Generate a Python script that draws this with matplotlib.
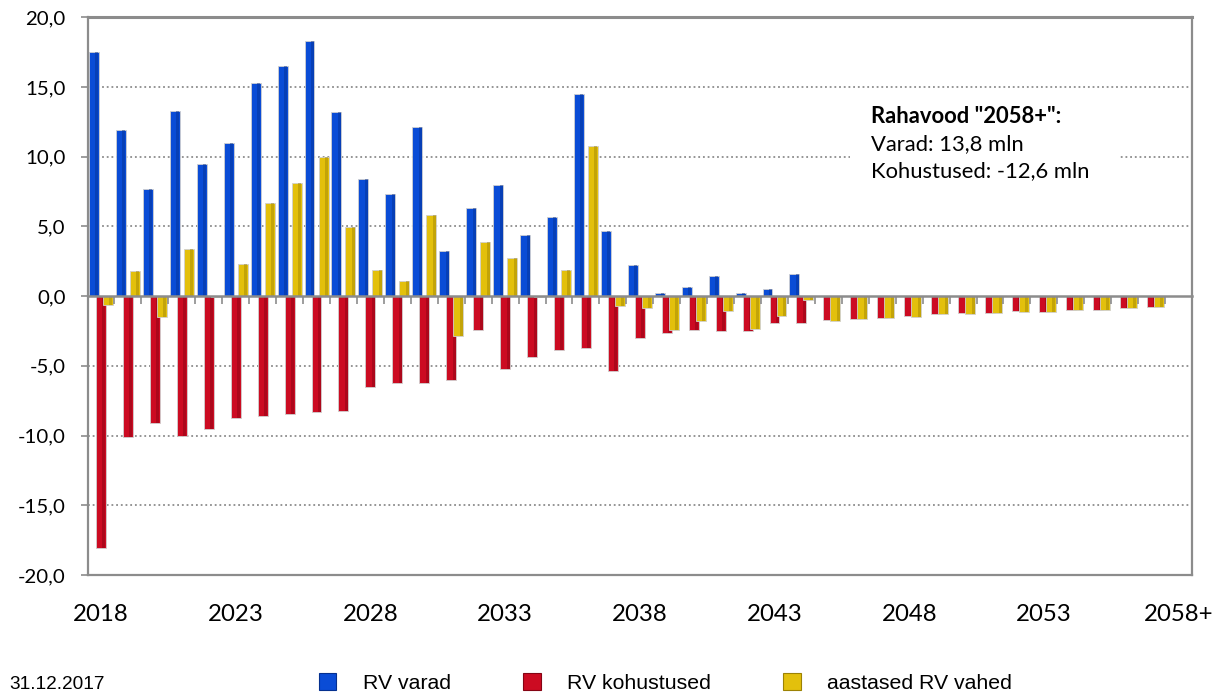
import matplotlib
matplotlib.use("Agg")
import matplotlib.pyplot as plt
from matplotlib.patches import Rectangle, Patch
from matplotlib.ticker import FuncFormatter
import numpy as np

# categories: 2018 ... 2057 plus the "2058+" bucket (shown only as text)
categories = [str(y) for y in range(2018, 2058)] + ["2058+"]
tick_labels = ["2018", "2023", "2028", "2033", "2038", "2043", "2048", "2053", "2058+"]

# RV varad (assets), 2018-2044
rv_varad = [17.5, 11.9, 7.7, 13.3, 9.5, 11.0, 15.3, 16.5, 18.3, 13.2,
            8.4, 7.35, 12.1, 3.25, 6.35, 8.0, 4.35, 5.7, 14.5, 4.7,
            2.2, 0.25, 0.62, 1.42, 0.2, 0.5, 1.6]

# RV kohustused (liabilities), 2018-2057
rv_kohustused = [-18.1, -10.1, -9.1, -10.0, -9.5, -8.75, -8.6, -8.45, -8.3, -8.25,
                 -6.55, -6.25, -6.25, -6.05, -2.45, -5.25, -4.35, -3.9, -3.75, -5.35,
                 -3.0, -2.65, -2.4, -2.5, -2.5, -1.95, -1.9, -1.7, -1.62, -1.56,
                 -1.44, -1.28, -1.22, -1.2, -1.1, -1.12, -0.97, -0.98, -0.85, -0.75]

# aastased RV vahed (annual gap), 2018-2057
rv_vahed = [-0.65, 1.8, -1.5, 3.4, -0.1, 2.3, 6.65, 8.1, 10.0, 4.95,
            1.85, 1.1, 5.85, -2.85, 3.9, 2.7, -0.05, 1.85, 10.8, -0.7,
            -0.85, -2.45, -1.8, -1.1, -2.35, -1.45, -0.3, -1.75, -1.66, -1.6,
            -1.47, -1.3, -1.25, -1.23, -1.13, -1.14, -1.0, -1.0, -0.88, -0.79]

series_names = ["RV varad", "RV kohustused", "aastased RV vahed"]
colors = ["#0a4cd6", "#cc0b22", "#e3c00c"]
dark = ["#05308f", "#850414", "#9c8204"]

box_lines = ['Rahavood "2058+":', "Varad: 13,8 mln", "Kohustused: -12,6 mln"]

GRAY = "#8c8c8c"

fig = plt.figure(figsize=(12.19, 6.95), dpi=100)
ax = fig.add_axes([0.0718, 0.1727, 0.9061, 0.8025])

bw = 0.37
offsets = [-0.26, 0.0, 0.26]
for k, vals in enumerate([rv_varad, rv_kohustused, rv_vahed]):
    x = np.arange(len(vals)) + offsets[k]
    ax.bar(x, vals, width=bw, color=colors[k], edgecolor="#d0d0d0",
           linewidth=0.6, zorder=2 + k * 0.1)
    # darker right side for a bit of the 3D look
    ax.bar(x + bw * 0.3, vals, width=bw * 0.3, color=dark[k], alpha=0.45,
           linewidth=0, zorder=2.05 + k * 0.1)

ax.set_xlim(-0.5, len(categories) - 0.5)
ax.set_ylim(-20, 20)
ax.set_yticks(np.arange(-20, 21, 5))
ax.yaxis.set_major_formatter(FuncFormatter(lambda v, p: f"{v:.1f}".replace(".", ",")))
ax.set_xticks(range(0, len(categories), 5))
ax.set_xticklabels(tick_labels)

for t in ax.get_yticklabels():
    t.set_fontfamily("Lato")
    t.set_fontsize(14.7)
for t in ax.get_xticklabels():
    t.set_fontfamily("Lato")
    t.set_fontsize(17.3)

ax.tick_params(axis="y", length=5.4, width=1.2, color=GRAY, pad=10.4)
ax.tick_params(axis="x", length=0, pad=21)

for y in [-15, -10, -5, 5, 10, 15]:
    ax.axhline(y, color=GRAY, lw=1.3, ls=(0, (1, 1.6)), zorder=0.5)

for s in ax.spines.values():
    s.set_color(GRAY)
    s.set_linewidth(1.6)
ax.spines["top"].set_linewidth(2.2)

# zero line with category tick marks
ax2 = ax.twiny()
ax2.set_xlim(ax.get_xlim())
ax2.xaxis.set_ticks_position("bottom")
ax2.spines["bottom"].set_position(("data", 0))
for side in ["top", "left", "right"]:
    ax2.spines[side].set_visible(False)
ax2.spines["bottom"].set_color(GRAY)
ax2.spines["bottom"].set_linewidth(1.8)
ax2.set_xticks(np.arange(-0.5, len(categories), 1))
ax2.tick_params(axis="x", length=5.8, width=1.2, color=GRAY, labelbottom=False,
                labeltop=False, direction="out")

# text box for the 2058+ bucket
ax.add_patch(Rectangle((0.690, 0.69), 0.243, 0.167, transform=ax.transAxes,
                       facecolor="white", edgecolor="none", zorder=1))
ys = [0.8105, 0.762, 0.7137]
for i, line in enumerate(box_lines):
    ax.text(0.7094, ys[i], line, transform=ax.transAxes, fontsize=15.8,
            family="Lato", fontweight="bold" if i == 0 else "normal",
            va="baseline", ha="left", zorder=3)

handles = [Patch(facecolor=colors[k], edgecolor=dark[k], linewidth=0.8)
           for k in range(3)]
fig.legend(handles, series_names, loc="center", bbox_to_anchor=(0.546, 0.017),
           ncol=3, frameon=False, prop={"family": "Liberation Sans", "size": 15.3},
           handlelength=0.82, handleheight=0.82, handletextpad=1.25,
           columnspacing=3.4, borderpad=0)

fig.text(0.008, 0.003, "31.12.2017", family="Liberation Sans", fontsize=13.7,
         va="bottom", ha="left")

fig.savefig("out.png", dpi=100)
